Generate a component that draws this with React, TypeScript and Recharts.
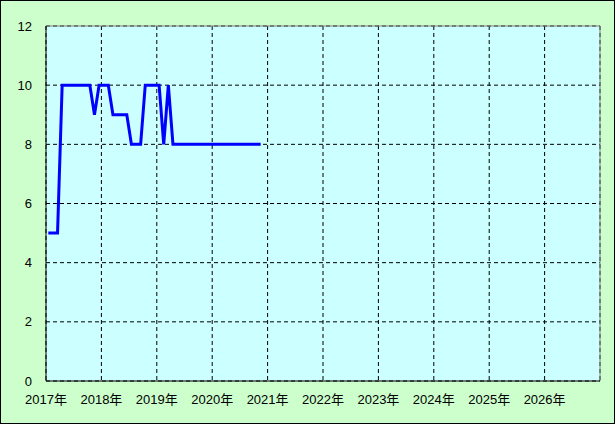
import { LineChart, Line, XAxis, YAxis, CartesianGrid, ReferenceLine } from "recharts";

// monthly readings, Jan 2017 .. Nov 2020
const startYear = 2017;
const values2017 = [5, 5, 5, 10, 10, 10, 10, 10, 10, 10, 9, 10];
const values2018 = [10, 10, 9, 9, 9, 9, 8, 8, 8, 10, 10, 10];
const values2019 = [10, 8, 10, 8, 8, 8, 8, 8, 8, 8, 8, 8];
const values2020 = [8, 8, 8, 8, 8, 8, 8, 8, 8, 8, 8];

const xTicks = [2017, 2018, 2019, 2020, 2021, 2022, 2023, 2024, 2025, 2026, 2027];
const yTicks = [0, 2, 4, 6, 8, 10, 12];

const data = [...values2017, ...values2018, ...values2019, ...values2020].map((v, i) => ({
  x: startYear + (i + 0.5) / 12,
  v,
}));

const font = "'Liberation Sans', 'Noto Sans CJK JP', sans-serif";

export default function App() {
  return (
    <div
      style={{
        position: "fixed",
        left: 0,
        top: 0,
        width: 615,
        height: 424,
        boxSizing: "border-box",
        border: "1px solid #000",
        background: "#ccffcc",
        fontFamily: font,
      }}
    >
      <div style={{ position: "absolute", left: -1, top: -1 }}>
        <LineChart
          width={615}
          height={424}
          data={data}
          margin={{ top: 26, right: 15, bottom: 0, left: 0 }}
        >
          <CartesianGrid
            fill="#ccffff"
            fillOpacity={1}
            stroke="#000"
            strokeDasharray="4 3"
          />
          <XAxis
            dataKey="x"
            type="number"
            domain={[2017, 2027]}
            ticks={xTicks}
            height={43}
            tickSize={0}
            tickMargin={14}
            axisLine={{ stroke: "#000" }}
            tick={{ fill: "#000", fontSize: 13, fontFamily: font }}
            tickFormatter={(t) => (t === 2027 ? "" : `${t}年`)}
            interval={0}
          />
          <YAxis
            type="number"
            domain={[0, 12]}
            ticks={yTicks}
            width={46}
            tickSize={0}
            tickMargin={14}
            axisLine={{ stroke: "#000" }}
            tick={{ fill: "#000", fontSize: 13, fontFamily: font }}
            interval={0}
          />
          <ReferenceLine y={12} stroke="#808080" />
          <ReferenceLine x={2027} stroke="#808080" />
          <Line
            type="linear"
            dataKey="v"
            stroke="#0000ff"
            strokeWidth={3}
            dot={false}
            isAnimationActive={false}
          />
        </LineChart>
      </div>
    </div>
  );
}
